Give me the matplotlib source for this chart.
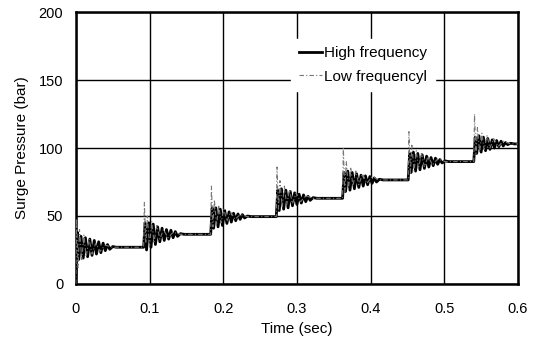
"""
Surge pressure vs time for high and low frequency valve closure.
"""

import matplotlib.pyplot as plt
import numpy as np

plt.rcParams["font.family"] = ["Liberation Sans", "DejaVu Sans"]

# step start times (sec) and end of record
step_starts = [0.0, 0.092, 0.183, 0.272, 0.362, 0.451, 0.540]
t_end = 0.6

# high frequency: extrema after each step (offset sec, pressure bar)
hf_offsets = [0, 0.002, 0.004, 0.007, 0.010, 0.013, 0.016, 0.019, 0.022, 0.025,
              0.028, 0.031, 0.034, 0.037, 0.040, 0.043, 0.046, 0.050, 0.055]
hf_steps = [
    [5, 38, 18, 35, 19, 34, 20, 33, 21, 32, 22, 31, 23, 30, 24.5, 29, 25.5, 27.5, 27],
    [27, 45, 25, 45, 27, 44, 29, 42, 31, 41, 32, 40, 33, 39.5, 34, 38.5, 35, 37, 36.5],
    [36.5, 56, 41, 56, 42, 55, 43, 54, 44.5, 53, 45.5, 52, 46.5, 51.5, 47.5, 51, 48.5, 50, 49.5],
    [49.5, 69, 54, 70, 55, 69, 56, 68, 57.5, 67, 58.5, 66, 59.5, 65.5, 60.5, 64.5, 61.5, 63.5, 63],
    [63, 82, 68, 83, 69, 82, 70, 81, 71, 80, 72, 79.5, 73, 79, 74, 78, 75, 77, 76.5],
    [76.5, 96, 82, 97, 83, 96, 84, 95, 85, 94, 86, 93, 87, 92.5, 88, 91.5, 89, 90.5, 90],
    [90, 108, 96, 109, 97, 108, 98, 107, 99, 106, 100, 105.5, 101, 105, 101.5, 104, 102.5, 103.5, 103],
]

# low frequency: spike and ringing after each step
lf_offsets = [0, 0.001, 0.003, 0.005, 0.008, 0.011, 0.014, 0.018, 0.022,
              0.027, 0.033, 0.040, 0.050]
lf_steps = [
    [0, 48, 12, 40, 18, 36, 20, 33, 22, 30, 24, 28.5, 27],
    [27, 60, 30, 50, 28, 46, 31, 43, 33, 40, 34, 38, 36.5],
    [36.5, 72, 42, 62, 43, 58, 45, 55, 46, 53, 47.5, 51, 49.5],
    [49.5, 86, 55, 76, 56, 72, 58, 69, 59, 67, 60.5, 65, 63],
    [63, 100, 68, 90, 70, 86, 72, 83, 73, 81, 74, 79, 76.5],
    [76.5, 112, 82, 102, 83, 98, 85, 96, 86, 94, 87.5, 92, 90],
    [90, 125, 96, 115, 97, 111, 99, 109, 100, 107, 101, 105, 103],
]

x_ticks = [0, 0.1, 0.2, 0.3, 0.4, 0.5, 0.6]
y_ticks = [0, 50, 100, 150, 200]


def build_series(offsets, steps):
    t, p = [], []
    ends = step_starts[1:] + [t_end]
    for start, end, vals in zip(step_starts, ends, steps):
        t += [start + o for o in offsets] + [end]
        p += list(vals) + [vals[-1]]
    return np.array(t), np.array(p)


t_hf, p_hf = build_series(hf_offsets, hf_steps)
t_lf, p_lf = build_series(lf_offsets, lf_steps)

fig = plt.figure(figsize=(5.34, 3.45), dpi=100)
ax = fig.add_axes([0.142, 0.177, 0.828, 0.788])

ax.plot(t_lf, p_lf, color="#777777", linestyle=(0, (4, 2, 1, 2)), linewidth=0.8,
        label="Low frequencyl", zorder=3)
ax.plot(t_hf, p_hf, color="black", linewidth=2.0, label="High frequency", zorder=2)

ax.set_xlim(0, 0.6)
ax.set_ylim(0, 200)
ax.set_xticks(x_ticks)
ax.set_xticklabels(["0", "0.1", "0.2", "0.3", "0.4", "0.5", "0.6"])
ax.set_yticks(y_ticks)
ax.tick_params(length=0, labelsize=10.5)
ax.tick_params(axis="x", pad=13)
ax.tick_params(axis="y", pad=9)
ax.grid(True, color="black", linewidth=1.0)
ax.set_axisbelow(True)
for s in ax.spines.values():
    s.set_linewidth(1.8)

ax.set_xlabel("Time (sec)", fontsize=11, labelpad=4)
ax.set_ylabel("Surge Pressure (bar)", fontsize=11, labelpad=7)

handles, labels = ax.get_legend_handles_labels()
leg = ax.legend(handles[::-1], labels[::-1], loc="upper left",
                bbox_to_anchor=(0.47, 0.93), frameon=True, fontsize=11,
                handlelength=1.5, handletextpad=0.15, borderpad=0.5,
                labelspacing=0.6, framealpha=1.0)
leg.get_frame().set_edgecolor("white")
leg.get_frame().set_boxstyle("square", pad=0)

plt.savefig("out.png", dpi=100)
plt.close()
